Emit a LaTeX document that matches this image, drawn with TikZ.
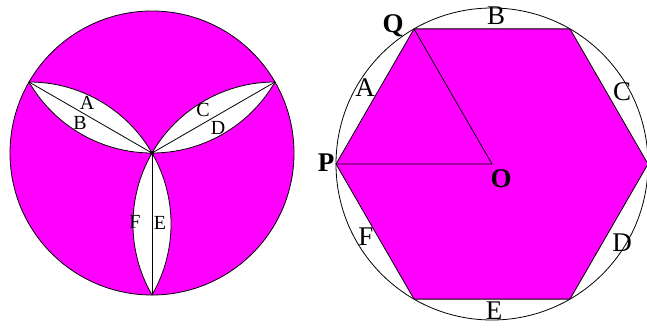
\documentclass[tikz,border=0pt]{standalone}
\usepackage{fontspec}
\setmainfont{Liberation Serif}
\usetikzlibrary{calc}
\definecolor{Magenta}{HTML}{FF00FF}
\begin{document}
\begin{tikzpicture}[x=1pt,y=1pt,
  outline/.style={draw=black,line width=0.8pt},
  lens/.style={draw=black,line width=0.8pt,fill=white},
  seg/.style={draw=black,line width=0.8pt},
  lbl/.style={font=\fontsize{20}{20}\selectfont,inner sep=0pt},
  arclbl/.style={font=\fontsize{27}{27}\selectfont,inner sep=0pt},
  ptlbl/.style={font=\bfseries\fontsize{27}{27}\selectfont,inner sep=0pt}
]
\useasboundingbox (0,0) rectangle (647,327);
% left circle with three lenses
\coordinate (O1) at (152,174);
\def\rad{142}
\fill[Magenta] (O1) circle (\rad);
\draw[outline] (O1) circle (\rad);
\foreach \ang/\name in {150/tl,30/tr,270/bt}{
  \coordinate (\name) at ($(O1)+(\ang:\rad)$);
  \path[lens] (O1) arc[start angle=\ang+240,end angle=\ang+300,radius=\rad]
    arc[start angle=\ang+60,end angle=\ang+120,radius=\rad] -- cycle;
  \draw[seg] (O1) -- (\name);
}
\fill (O1) circle (2.2);
\node[lbl] (la) at (87,224) {A};
\node[lbl] (lb) at (80,204) {B};
\node[lbl] (lc) at (203,217) {C};
\node[lbl] (ld) at (218,199) {D};
\node[lbl] (lf) at (135,105) {F};
\node[lbl] (le) at (160,104) {E};
% right circle with hexagon
\coordinate (O2) at (492,163);
\def\Rad{156}
\draw[outline] (O2) circle (\Rad);
\foreach \i in {0,...,5}
  \coordinate (h\i) at ($(O2)+(\i*60:\Rad)$);
\filldraw[fill=Magenta,draw=black,line width=0.8pt] (h0) -- (h1) -- (h2) -- (h3) -- (h4) -- (h5) -- cycle;
\draw[seg] (h2) -- (O2) -- (h3);
\node[ptlbl] (q) at (393,301) {Q};
\node[ptlbl] (p) at (326,164) {P};
\node[ptlbl] (o) at (501,148) {O};
\node[arclbl] (ra) at (365,239) {A};
\node[arclbl] (rb) at (496,311) {B};
\node[arclbl] (rc) at (622,235) {C};
\node[arclbl] (rd) at (622,84) {D};
\node[arclbl] (re) at (494,16) {E};
\node[arclbl] (rf) at (366,90) {F};
\end{tikzpicture}
\end{document}
